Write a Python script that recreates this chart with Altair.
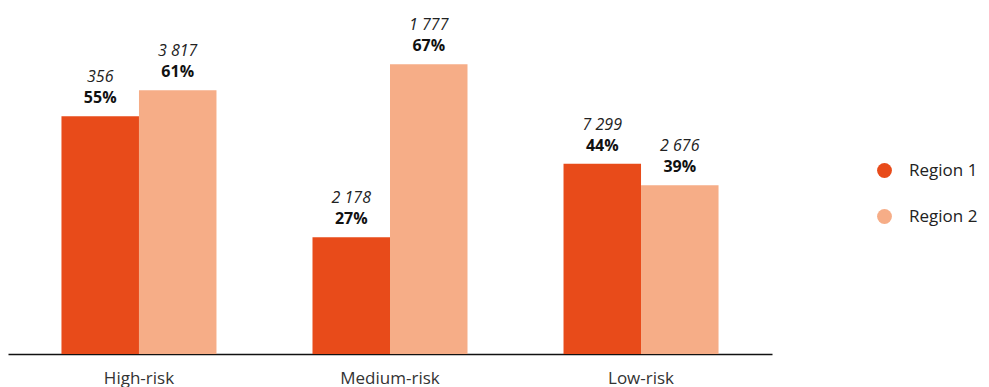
import altair as alt
import pandas as pd

categories = ["High-risk", "Medium-risk", "Low-risk"]
regions = ["Region 1", "Region 2"]
region1_pct = [55, 27, 44]
region2_pct = [61, 67, 39]
region1_count = ["356", "2 178", "7 299"]
region2_count = ["3 817", "1 777", "2 676"]
region_colors = ["#E84B1A", "#F6AD87"]

rows = []
for i, cat in enumerate(categories):
    rows.append({"category": cat, "region": regions[0], "pct": region1_pct[i],
                 "pct_label": f"{region1_pct[i]}%", "count_label": region1_count[i]})
    rows.append({"category": cat, "region": regions[1], "pct": region2_pct[i],
                 "pct_label": f"{region2_pct[i]}%", "count_label": region2_count[i]})
df = pd.DataFrame(rows)

FONT = "Open Sans"

x = alt.X("category:N", sort=categories, title=None,
          scale=alt.Scale(paddingInner=0.3825, paddingOuter=0.213),
          axis=alt.Axis(labelAngle=0, ticks=False, labelPadding=16,
                        labelFontSize=17, labelColor="#333333", labelFont=FONT,
                        domainColor="#111111", domainWidth=1.5))
x_off = alt.XOffset("region:N", sort=regions,
                    scale=alt.Scale(paddingInner=0, paddingOuter=0))
y = alt.Y("pct:Q", scale=alt.Scale(domain=[0, 80]), axis=None)

base = alt.Chart(df).encode(x=x, xOffset=x_off, y=y)

bars = base.mark_bar().encode(
    color=alt.Color("region:N", sort=regions, title=None,
                    scale=alt.Scale(domain=regions, range=region_colors),
                    legend=alt.Legend(orient="none", legendX=868, legendY=154,
                                      symbolType="circle", symbolSize=220,
                                      symbolStrokeWidth=0, labelFontSize=17,
                                      labelFont=FONT, labelColor="#222222",
                                      labelOffset=16, rowPadding=28))
)

pct_text = base.mark_text(dy=-13, baseline="alphabetic", fontSize=16,
                          fontWeight="bold", font=FONT, color="#111111").encode(
    text="pct_label:N")

count_text = base.mark_text(dy=-34, baseline="alphabetic", fontSize=16,
                            fontStyle="italic", font=FONT, color="#222222").encode(
    text="count_label:N")

chart = alt.layer(bars, pct_text, count_text).properties(
    width=764, height=346,
    padding={"left": 8, "top": 8, "right": 217, "bottom": 33},
    autosize=alt.AutoSizeParams(type="none"),
).configure_view(stroke=None)

chart.save("out.html", embed_options={"renderer": "svg", "actions": False})
